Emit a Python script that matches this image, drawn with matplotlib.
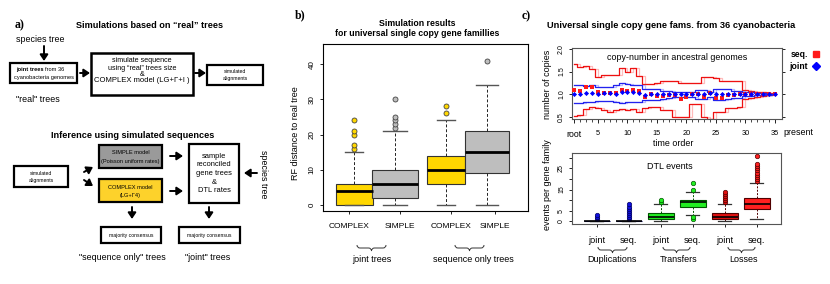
import numpy as np
import matplotlib
matplotlib.use('Agg')
import matplotlib.pyplot as plt
from matplotlib.patches import Rectangle, FancyArrowPatch, PathPatch
from matplotlib.path import Path
from matplotlib.lines import Line2D

W, H = 830, 284

# ---------------- Panel b data ----------------
b_labels = ['COMPLEX', 'SIMPLE', 'COMPLEX', 'SIMPLE']
b_groups = ['joint trees', 'sequence only trees']
b_whislo = [0, 0, 0, 0]
b_q1 = [0, 2, 6, 9]
b_med = [4, 6, 10, 15]
b_q3 = [6, 10, 14, 21]
b_whishi = [15, 21, 24, 34]
b_fliers = [[16, 17, 20, 21, 24], [22, 23, 24, 25, 30], [26, 28], [41]]
b_colors = ['#FFD700', '#BEBEBE', '#FFD700', '#BEBEBE']

# ---------------- Panel c (top) data ----------------
time_order = np.arange(1, 36)
seq_mean = [1.10, 1.07, 1.17, 1.15, 1.04, 1.03, 1.03, 1.03, 1.10, 1.08, 1.10, 1.08,
            0.95, 1.00, 0.97, 0.97, 0.98, 0.98, 0.90, 0.93, 1.00, 1.00, 0.93, 1.03,
            0.92, 0.92, 0.98, 0.98, 1.00, 1.00, 1.00, 1.00, 1.00, 1.00, 1.00]
joint_mean = [1.00, 1.00, 1.02, 1.02, 1.00, 1.02, 1.02, 1.00, 1.04, 1.04, 1.04, 1.02,
              0.99, 1.00, 1.00, 1.00, 1.00, 1.00, 1.00, 1.00, 1.00, 1.00, 1.00, 1.02,
              1.00, 1.00, 1.00, 1.00, 1.00, 1.00, 1.00, 1.00, 1.00, 1.00, 1.00]
seq_upper = [1.67, 1.60, 1.62, 1.55, 1.38, 1.42, 1.42, 1.42, 1.58, 1.50, 1.58, 1.40,
             1.22, 1.22, 1.25, 1.30, 1.30, 1.30, 1.25, 1.25, 1.25, 1.25, 1.38, 1.38,
             1.35, 1.30, 1.30, 1.30, 1.30, 1.10, 1.08, 1.06, 1.04, 1.02, 1.00]
seq_lower = [0.52, 0.55, 0.68, 0.72, 0.70, 0.65, 0.62, 0.65, 0.68, 0.65, 0.68, 0.62,
             0.70, 0.72, 0.72, 0.65, 0.65, 0.50, 0.50, 0.50, 0.78, 0.78, 0.50, 0.45,
             0.60, 0.60, 0.70, 0.70, 0.72, 0.90, 0.92, 0.94, 0.96, 0.98, 1.00]
joint_upper = [1.20, 1.20, 1.18, 1.20, 1.15, 1.15, 1.15, 1.20, 1.25, 1.22, 1.20, 1.20,
               1.12, 1.12, 1.12, 1.08, 1.08, 1.05, 1.05, 1.05, 1.05, 1.10, 1.10, 1.05,
               1.12, 1.12, 1.12, 1.08, 1.08, 1.05, 1.04, 1.03, 1.02, 1.01, 1.00]
joint_lower = [0.80, 0.80, 0.82, 0.82, 0.85, 0.85, 0.85, 0.82, 0.80, 0.82, 0.82, 0.82,
               0.88, 0.88, 0.88, 0.90, 0.92, 0.95, 0.95, 0.95, 0.95, 0.90, 0.90, 0.95,
               0.88, 0.88, 0.90, 0.92, 0.92, 0.96, 0.97, 0.98, 0.98, 0.99, 1.00]
time_ticks = [1, 5, 10, 15, 20, 25, 30, 35]
time_ticklabels = ['root', '5', '10', '15', '20', '25', '30', '35']

# ---------------- Panel c (bottom) data ----------------
dtl_labels = ['joint', 'seq.', 'joint', 'seq.', 'joint', 'seq.']
dtl_groups = ['Duplications', 'Transfers', 'Losses']
dtl_whislo = [0, 0, 0, 3, 0, 1]
dtl_q1 = [0, 0, 1, 7, 1, 6]
dtl_med = [0, 0, 2, 9, 2, 8]
dtl_q3 = [0, 0, 4, 10, 4, 11]
dtl_whishi = [0, 0, 8, 14, 8, 18]
dtl_fliers = [[1, 2, 3], [1, 2, 3, 4, 5, 6, 7, 8], [9, 10], [1, 2, 15, 18],
              [9, 10, 11, 12, 13, 14], [19, 20, 21, 22, 23, 24, 25, 26, 27, 31]]
dtl_colors = ['#1010E0', '#1010E0', '#22EE22', '#22EE22', '#E01010', '#FF2020']
dtl_dark = ['#000060', '#000060', '#005500', '#005500', '#500000', '#500000']

SANS = 'Liberation Sans'
SERIF = 'Liberation Serif'

fig = plt.figure(figsize=(W / 100, H / 100), dpi=100)


def fx(x):
    return x / W


def fy(y):
    return 1 - y / H


def T(x, y, s, size=6, weight='normal', family=SANS, ha='center', va='center', rot=0):
    fig.text(fx(x), fy(y), s, fontsize=size, fontweight=weight, family=family,
             ha=ha, va=va, rotation=rot)


def R(x0, y0, x1, y1, fc='white', lw=1.6):
    fig.add_artist(Rectangle((fx(x0), fy(y1)), (x1 - x0) / W, (y1 - y0) / H,
                             transform=fig.transFigure, fc=fc, ec='k', lw=lw))


def A(x0, y0, x1, y1):
    fig.add_artist(FancyArrowPatch((fx(x0), fy(y0)), (fx(x1), fy(y1)),
                                   transform=fig.transFigure,
                                   arrowstyle='-|>,head_length=0.45,head_width=0.3',
                                   mutation_scale=8, lw=1.4, color='k',
                                   shrinkA=0, shrinkB=0))


def brace(x0, x1, y, h=3):
    xm = (x0 + x1) / 2
    pts = [(x0, y - h), (x0, y), (x0 + h, y), (xm - h, y), (xm, y), (xm, y + h),
           (xm, y), (xm + h, y), (x1 - h, y), (x1, y), (x1, y - h)]
    codes = [Path.MOVETO, Path.CURVE3, Path.CURVE3, Path.LINETO, Path.CURVE3, Path.CURVE3,
             Path.CURVE3, Path.CURVE3, Path.LINETO, Path.CURVE3, Path.CURVE3]
    verts = [(fx(a), fy(b)) for a, b in pts]
    fig.add_artist(PathPatch(Path(verts, codes), transform=fig.transFigure,
                             fc='none', ec='#333333', lw=0.7))


# ================= Panel a =================
T(20, 25, 'a)', 8.5, 'bold', SERIF)
T(149, 25, 'Simulations based on \u201creal\u201d trees', 6.6, 'bold')
T(40, 39, 'species tree', 6.4)
A(44, 46, 44, 61)
R(10, 63, 77, 83)
T(44, 69.5, 'joint trees', 4.1, 'bold', ha='right')
T(45, 69.5, 'from 36', 4.1, ha='left')
T(43.5, 77, 'cyanobacteria genomes', 4.1)
A(80, 73, 90, 73)
R(91, 53, 193, 95, lw=1.8)
T(142, 61, 'simulate sequence', 5.1)
T(142, 68, 'using \u201creal\u201d trees size', 5.1)
T(142, 74.5, '&', 5.1)
T(142, 81, 'COMPLEX model (LG+\u0393+I )', 5.5)
A(195, 73, 206, 73)
R(207, 65, 263, 85)
T(235, 71.5, 'simulated', 3.7)
T(235, 78.5, 'alignments', 3.7)
T(38, 99, '"real" trees', 6.4)
T(133, 136, 'Inference using simulated sequences', 6.6, 'bold')

R(14, 166, 68, 187)
T(41, 173.5, 'simulated', 3.7)
T(41, 180.5, 'alignments', 3.7)
A(84, 172, 93, 167)
A(84, 180, 93, 186)
R(99, 145, 162, 168, fc='#9A9A9A')
T(130.5, 153, 'SIMPLE model', 4.1)
T(130.5, 161, '(Poisson uniform rates)', 4.1)
R(99, 179, 162, 202, fc='#FDD22B')
T(130.5, 187.5, 'COMPLEX model', 4.1)
T(130.5, 195, '(LG+\u03934)', 4.1)
A(170, 156, 183, 156)
A(170, 191, 183, 191)
R(189, 144, 239, 203)
for yy, s in zip([157, 165, 173.5, 182, 190.5],
                 ['sample', 'reconciled', 'gene trees', '&', 'DTL rates']):
    T(214, yy, s, 5.4)
A(257, 173, 244, 173)
T(263, 174, 'species tree', 6.4, rot=-90)
A(132, 207, 132, 219)
A(209, 207, 209, 219)
R(101, 227, 161, 243)
T(131, 235, 'majority consensus', 3.7)
R(179, 227, 240, 243)
T(209.5, 235, 'majority consensus', 3.7)
T(122, 258, '"sequence only" trees', 6.4)
T(208, 258, '"joint" trees', 6.4)

# ================= Panel b =================
T(300, 15, 'b)', 8.5, 'bold', SERIF)
T(417, 23, 'Simulation results', 6.3, 'bold')
T(417, 34, 'for universal single copy gene famillies', 6.3, 'bold')

axb = fig.add_axes([fx(323), fy(211), 205 / W, 167 / H])
b_pos = [1.11, 1.905, 2.90, 3.70]
b_w = [0.72, 0.91, 0.73, 0.865]
stats = []
for i in range(4):
    stats.append(dict(med=b_med[i], q1=b_q1[i], q3=b_q3[i], whislo=b_whislo[i],
                      whishi=b_whishi[i], fliers=b_fliers[i]))
bp = axb.bxp(stats, positions=b_pos, widths=b_w, capwidths=[w / 2 for w in b_w],
             patch_artist=True, manage_ticks=False,
             boxprops=dict(lw=0.8, ec='#333333'),
             medianprops=dict(color='k', lw=2.0, solid_capstyle='butt'),
             whiskerprops=dict(color='#222222', lw=0.7, ls=(0, (3, 2))),
             capprops=dict(color='#555555', lw=1.0))
for patch, c in zip(bp['boxes'], b_colors):
    patch.set_facecolor(c)
for fl, c in zip(bp['fliers'], b_colors):
    fl.set(marker='o', markerfacecolor=c, markeredgecolor='#444444', markersize=3.6, mew=0.6)
axb.set_xlim(0.5, 4.5)
axb.set_ylim(-1.7, 45.7)
axb.set_yticks([0, 10, 20, 30, 40])
axb.set_yticklabels(['0', '10', '20', '30', '40'], rotation=90, va='center',
                    fontsize=5.8, family=SANS)
axb.set_xticks([1, 2, 3, 3.85])
axb.set_xticklabels(b_labels, fontsize=6.0, family=SANS)
axb.tick_params(axis='y', length=2.5, pad=3, width=0.6)
axb.tick_params(axis='x', length=2.5, pad=6.5, width=0.6)
for sp in axb.spines.values():
    sp.set_linewidth(0.8)
T(295, 133, 'RF distance to real tree', 6.5, rot=90)
brace(357, 386, 248)
brace(455, 484, 248)
T(372, 259, b_groups[0], 6.5)
T(473, 259, b_groups[1], 6.5)

# ================= Panel c =================
T(526, 16, 'c)', 8.5, 'bold', SERIF)
T(671, 26, 'Universal single copy gene fams. from 36 cyanobacteria', 6.7, 'bold')

axt = fig.add_axes([fx(572), fy(119), 210 / W, 71 / H])
for data in (seq_upper, seq_lower):
    axt.step(time_order, data, where='post', color='#FF9090', lw=0.9, alpha=0.6)
    axt.step(time_order, data, where='mid', color='#EE1111', lw=0.9)
for data in (joint_upper, joint_lower):
    axt.step(time_order, data, where='post', color='#9090FF', lw=0.9, alpha=0.6)
    axt.step(time_order, data, where='mid', color='#2222EE', lw=0.9)
axt.plot(time_order, seq_mean, 's', color='#FF1A1A', markersize=3.4, mew=0, zorder=4)
axt.plot(time_order, joint_mean, 'D', color='#0000FF', markersize=2.6, mew=0, zorder=5)
axt.set_xlim(0.6, 36.2)
axt.set_ylim(0.455, 2.02)
axt.set_xticks(time_ticks)
axt.set_xticklabels(time_ticklabels, fontsize=5.3, family=SANS)
axt.get_xticklabels()[0].set_fontsize(6.3)
axt.set_xticks(time_order, minor=True)
axt.set_yticks([0.5, 1.0, 1.5, 2.0])
axt.set_yticklabels(['0.5', '1.0', '1.5', '2.0'], rotation=90, va='center',
                    fontsize=5.0, family=SANS)
axt.tick_params(axis='x', which='major', length=3, pad=5, width=0.6)
axt.tick_params(axis='x', which='minor', length=2, width=0.5)
axt.tick_params(axis='y', length=2.5, pad=2.5, width=0.6, right=True)
for sp in axt.spines.values():
    sp.set_linewidth(0.8)
    sp.set_color('#555555')
axt.text(0.5, 0.93, 'copy-number in ancestral genomes', transform=axt.transAxes,
         ha='center', va='top', fontsize=6.4, family=SANS)
leg = axt.legend(handles=[Line2D([], [], marker='s', color='#FF1A1A', ls='none', markersize=4, label='seq.'),
                          Line2D([], [], marker='D', color='#0000FF', ls='none', markersize=3.6, label='joint')],
                 loc='upper left', bbox_to_anchor=(1.01, 1.04), frameon=False, markerfirst=False,
                 prop=dict(family=SANS, weight='bold', size=6.2), handlelength=0.8,
                 handletextpad=0.5, labelspacing=0.35, borderpad=0.1)
T(798, 133, 'present', 6.4)
T(673, 144, 'time order', 6.4)
T(547, 84, 'number of copies', 6.5, rot=90)

axd = fig.add_axes([fx(572), fy(224), 209 / W, 71 / H])
dstats = []
for i in range(6):
    dstats.append(dict(med=dtl_med[i], q1=dtl_q1[i], q3=dtl_q3[i], whislo=dtl_whislo[i],
                       whishi=dtl_whishi[i], fliers=dtl_fliers[i]))
dpos = np.arange(1, 7)
bd = axd.bxp(dstats, positions=dpos, widths=0.82, capwidths=0.4, patch_artist=True,
             manage_ticks=False,
             boxprops=dict(lw=0.8),
             medianprops=dict(color='k', lw=1.2, solid_capstyle='butt'),
             whiskerprops=dict(lw=0.7, ls=(0, (2, 1.5))),
             capprops=dict(lw=0.9))
for i in range(6):
    bd['boxes'][i].set_facecolor(dtl_colors[i])
    bd['boxes'][i].set_edgecolor(dtl_dark[i])
    bd['whiskers'][2 * i].set_color(dtl_dark[i])
    bd['whiskers'][2 * i + 1].set_color(dtl_dark[i])
    bd['caps'][2 * i].set_color('#333333')
    bd['caps'][2 * i + 1].set_color('#333333')
    bd['fliers'][i].set(marker='o', markerfacecolor=dtl_colors[i],
                        markeredgecolor=dtl_dark[i], markersize=3.2, mew=0.5)
axd.set_xlim(0.228, 6.76)
axd.set_ylim(-1.24, 32.24)
axd.set_yticks([0, 5, 10, 15, 20, 25, 30])
axd.set_yticklabels(['0', '5', '', '15', '', '25', ''], rotation=90, va='center',
                    fontsize=5.0, family=SANS)
axd.set_xticks(dpos)
axd.set_xticklabels(dtl_labels, fontsize=6.6, family=SANS)
axd.tick_params(axis='x', length=2.5, pad=6, width=0.6)
axd.tick_params(axis='y', length=2.5, pad=2.5, width=0.6)
for sp in axd.spines.values():
    sp.set_linewidth(0.8)
    sp.set_color('#555555')
axd.text(0.47, 0.88, 'DTL events', transform=axd.transAxes, ha='center', va='top',
         fontsize=6.5, family=SANS)
T(547, 185, 'events per gene family', 6.5, rot=90)
for (a, b), (xc, s) in zip([(598, 627), (663, 690), (728, 755)],
                           [(612, dtl_groups[0]), (679, dtl_groups[1]), (743, dtl_groups[2])]):
    brace(a, b, 250)
    T(xc, 259.5, s, 6.5)

fig.savefig('out.png', dpi=100)
